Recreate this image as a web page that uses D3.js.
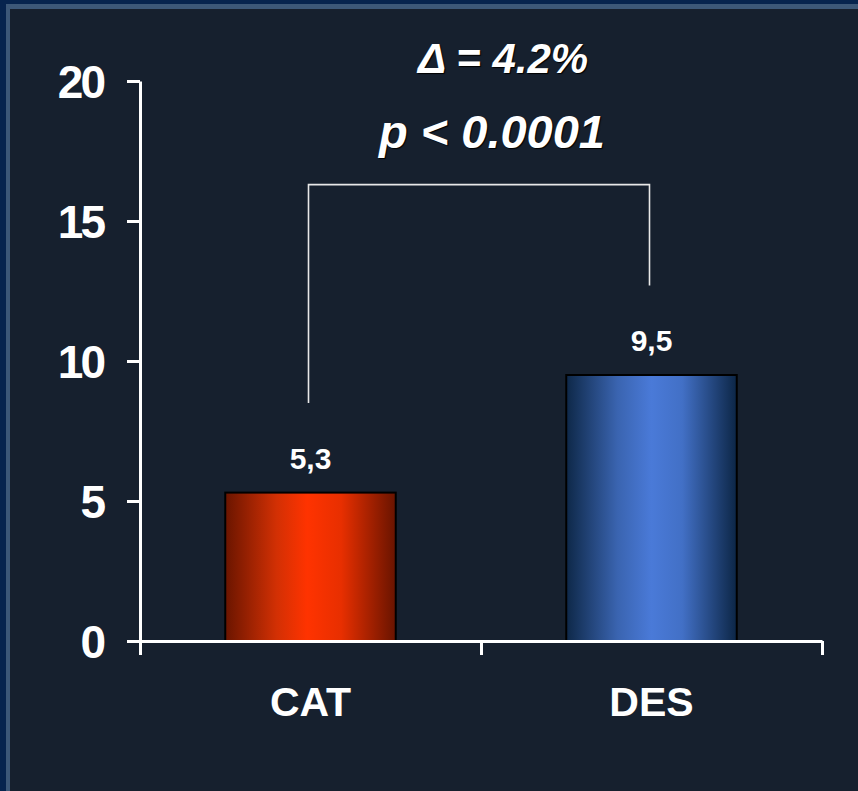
<!DOCTYPE html>
<html>
<head>
<meta charset="utf-8">
<script src="https://cdn.jsdelivr.net/npm/d3@7/dist/d3.min.js"></script>
<style>
  html, body { margin: 0; padding: 0; background: #16202e; }
  svg { display: block; }
  text { font-family: "Liberation Sans", Arial, Helvetica, sans-serif; font-weight: bold; fill: #ffffff; }
  .note { text-shadow: 1px 1px 1px #000; font-style: italic; }
</style>
</head>
<body>
<div id="vis"></div>
<script>
const categories = ["CAT", "DES"];
const values = [5.3, 9.5];
const valueLabels = ["5,3", "9,5"];
const yTicks = [0, 5, 10, 15, 20];
const deltaText = "\u0394 = 4.2%";
const pText = "p < 0.0001";
const bracketTop = 16.3;     // value level of bracket bar
const bracketGap = 3.2;      // legs stop this far above the bars

const W = 858, H = 791;

const svg = d3.select("#vis").append("svg")
    .attr("width", W)
    .attr("height", H);

// frame
svg.append("rect").attr("x", 0).attr("y", 0).attr("width", W).attr("height", H).attr("fill", "#06244e");
svg.append("rect").attr("x", 6).attr("y", 4).attr("width", W).attr("height", H).attr("fill", "#3c5878");
svg.append("rect").attr("x", 10).attr("y", 9).attr("width", W).attr("height", H).attr("fill", "#16202e");

const defs = svg.append("defs");
const grads = [
    { id: "gRed", stops: [["0%", "#6a1500"], ["30%", "#d23004"], ["48%", "#ff3300"], ["68%", "#e82f00"], ["100%", "#681400"]] },
    { id: "gBlue", stops: [["0%", "#0e2848"], ["30%", "#3a64b0"], ["50%", "#4a7ad8"], ["68%", "#4270c6"], ["100%", "#0c2646"]] }
];
grads.forEach(g => {
    const lg = defs.append("linearGradient").attr("id", g.id)
        .attr("x1", "0%").attr("x2", "100%").attr("y1", "0%").attr("y2", "0%");
    g.stops.forEach(s => lg.append("stop").attr("offset", s[0]).attr("stop-color", s[1]));
});

const x0 = 140, x1 = 822, yTop = 81, yBot = 641;

const y = d3.scaleLinear().domain([0, 20]).range([yBot, yTop]);
const x = d3.scaleBand().domain(categories).range([x0, x1])
    .paddingInner(0.5).paddingOuter(0.25);
const xTicks = d3.scaleLinear().domain([0, categories.length]).range([x0, x1]);

// bars
svg.selectAll("rect.bar")
    .data(values)
    .enter().append("rect")
    .attr("class", "bar")
    .attr("x", (d, i) => x(categories[i]))
    .attr("y", d => y(d))
    .attr("width", x.bandwidth())
    .attr("height", d => y(0) - y(d))
    .attr("fill", (d, i) => i === 0 ? "url(#gRed)" : "url(#gBlue)")
    .attr("stroke", "#000")
    .attr("stroke-width", 2);

// value labels
svg.selectAll("text.val")
    .data(values)
    .enter().append("text")
    .attr("class", "val")
    .attr("x", (d, i) => x(categories[i]) + x.bandwidth() / 2)
    .attr("y", d => y(d) - 24)
    .attr("text-anchor", "middle")
    .style("font-size", "30px")
    .text((d, i) => valueLabels[i]);

// y axis
const yAxis = svg.append("g")
    .attr("transform", `translate(${x0},0)`)
    .call(d3.axisLeft(y).tickValues(yTicks).tickSize(13).tickSizeOuter(0).tickPadding(24));
yAxis.selectAll("path, line").attr("stroke", "#fff").attr("stroke-width", 3);
yAxis.selectAll("text").style("font-size", "46px").style("letter-spacing", "-3px")
    .attr("fill", "#fff").attr("dy", "0.36em");

// x axis line and ticks
const xAxis = svg.append("g")
    .attr("transform", `translate(0,${yBot})`)
    .call(d3.axisBottom(xTicks).ticks(categories.length).tickFormat("").tickSize(14).tickSizeOuter(0));
xAxis.selectAll("path, line").attr("stroke", "#fff").attr("stroke-width", 3);

// category labels
const xLab = svg.append("g")
    .attr("transform", `translate(0,${yBot})`)
    .call(d3.axisBottom(x).tickSize(0).tickPadding(46));
xLab.select("path").remove();
xLab.selectAll("text").style("font-size", "41px").attr("fill", "#fff");

// significance bracket
const cx = categories.map(c => x(c) + x.bandwidth() / 2 - 2);
svg.append("path")
    .attr("d", d3.line()([
        [cx[0], y(values[0] + bracketGap)],
        [cx[0], y(bracketTop)],
        [cx[1], y(bracketTop)],
        [cx[1], y(values[1] + bracketGap)]
    ]))
    .attr("fill", "none")
    .attr("stroke", "#e8e8e8")
    .attr("stroke-width", 1.6);

const mid = (cx[0] + cx[1]) / 2;
svg.append("text")
    .attr("class", "note")
    .attr("x", mid + 24)
    .attr("y", 73)
    .attr("text-anchor", "middle")
    .style("font-size", "42px")
    .text(deltaText);

svg.append("text")
    .attr("class", "note")
    .attr("x", mid + 13)
    .attr("y", 148)
    .attr("text-anchor", "middle")
    .style("font-size", "47px")
    .text(pText);
</script>
</body>
</html>
